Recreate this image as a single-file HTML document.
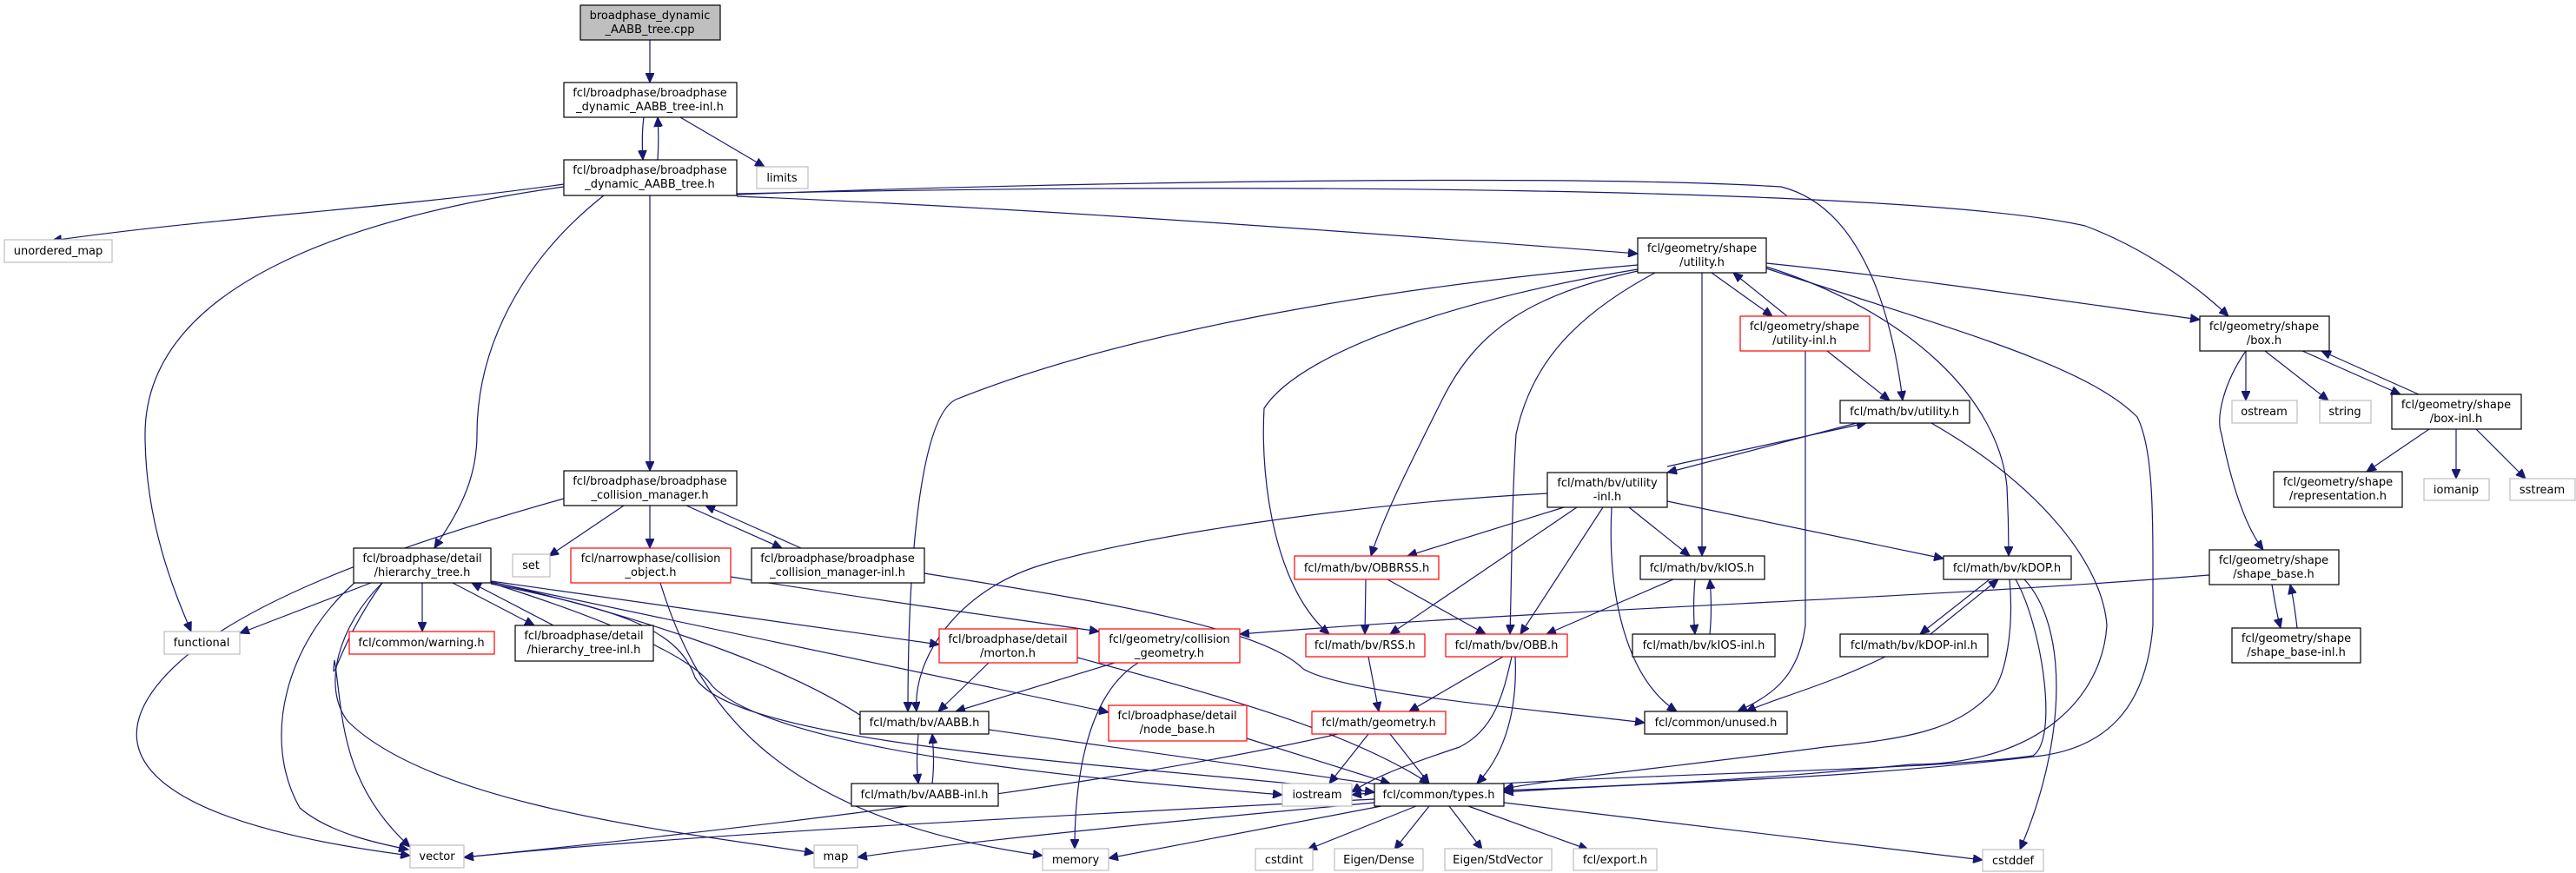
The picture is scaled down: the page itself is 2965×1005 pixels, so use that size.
<!DOCTYPE html>
<html><head><meta charset="utf-8"><style>
html,body{margin:0;padding:0;background:#fff;}
svg{display:block;}
text{font-family:"DejaVu Sans","Liberation Sans",sans-serif;font-size:13px;fill:#000;}
.n{fill:#fff;stroke:#000;stroke-width:1.2;}
.r{fill:#fff;stroke:#ff0000;stroke-width:1.2;}
.g{fill:#fff;stroke:#bfbfbf;stroke-width:1.2;}
.e{fill:none;stroke:#191970;stroke-width:1.2;}
</style></head><body>
<svg width="2965" height="1005" viewBox="0 0 2965 1005" xmlns="http://www.w3.org/2000/svg">
<defs><marker id="a" markerUnits="userSpaceOnUse" markerWidth="12" markerHeight="10" refX="11" refY="5" orient="auto"><path d="M0,0 L11,5 L0,10 Z" fill="#191970" stroke="#191970"/></marker></defs>
<g class="edges" marker-end="url(#a)">
<path class="e" marker-end="url(#a)" d="M748,46 L748,95"/>
<path class="e" marker-end="url(#a)" d="M741,135 C739,150 739,168 740,184"/>
<path class="e" marker-end="url(#a)" d="M757,184 C758,168 758,150 757,135"/>
<path class="e" marker-end="url(#a)" d="M783,135 L880,192"/>
<path class="e" marker-end="url(#a)" d="M649,212 C450,240 250,250 60,277"/>
<path class="e" marker-end="url(#a)" d="M649,215 C400,250 167,330 167,500 C167,600 200,680 220,727"/>
<path class="e" marker-end="url(#a)" d="M695,225 C600,300 549,400 549,500 C549,560 520,600 500,631"/>
<path class="e" marker-end="url(#a)" d="M748,225 L748,542"/>
<path class="e" marker-end="url(#a)" d="M848,226 C1200,240 1600,270 1885,292"/>
<path class="e" marker-end="url(#a)" d="M848,224 C1200,210 1800,200 2050,215 C2150,240 2180,380 2190,461"/>
<path class="e" marker-end="url(#a)" d="M848,223 C1400,210 2200,215 2400,260 C2480,290 2540,340 2565,364"/>
<path class="e" marker-end="url(#a)" d="M649,574 C450,630 250,700 180,790 C110,880 200,950 472,985"/>
<path class="e" marker-end="url(#a)" d="M718,582 L632,640"/>
<path class="e" marker-end="url(#a)" d="M748,582 L748,631"/>
<path class="e" marker-end="url(#a)" d="M790,582 L900,631"/>
<path class="e" marker-end="url(#a)" d="M922,631 L812,582"/>
<path class="e" marker-end="url(#a)" d="M427,671 L276,729"/>
<path class="e" marker-end="url(#a)" d="M486,671 L486,727"/>
<path class="e" marker-end="url(#a)" d="M521,671 L615,720"/>
<path class="e" marker-end="url(#a)" d="M637,720 L543,671"/>
<path class="e" marker-end="url(#a)" d="M408,671 C330,740 300,850 345,930 C380,960 440,972 470,978"/>
<path class="e" marker-end="url(#a)" d="M440,671 C390,740 380,800 385,760 C395,820 390,900 472,975"/>
<path class="e" marker-end="url(#a)" d="M440,671 C390,720 370,790 400,830 C500,930 800,960 937,982"/>
<path class="e" marker-end="url(#a)" d="M565,669 L1081,742"/>
<path class="e" marker-end="url(#a)" d="M565,670 C700,700 900,760 1000,830"/>
<path class="e" marker-end="url(#a)" d="M565,670 L1276,820"/>
<path class="e" marker-end="url(#a)" d="M565,672 C700,700 780,720 800,780 C850,860 1300,880 1582,912"/>
<path class="e" marker-end="url(#a)" d="M565,671 C720,720 800,760 820,790 C900,870 1300,900 1476,915"/>
<path class="e" marker-end="url(#a)" d="M760,671 C800,800 880,940 1200,985"/>
<path class="e" marker-end="url(#a)" d="M841,664 C1000,690 1150,710 1265,727"/>
<path class="e" marker-end="url(#a)" d="M1064,660 C1250,690 1450,720 1500,770 C1550,800 1800,820 1893,832"/>
<path class="e" marker-end="url(#a)" d="M1885,305 C1600,330 1300,380 1100,460 C1060,480 1045,640 1045,819"/>
<path class="e" marker-end="url(#a)" d="M1885,310 C1700,340 1500,400 1455,470 C1450,560 1470,680 1530,730"/>
<path class="e" marker-end="url(#a)" d="M1885,312 C1760,340 1700,380 1660,460 C1620,540 1590,600 1578,640"/>
<path class="e" marker-end="url(#a)" d="M1905,314 C1800,370 1760,430 1745,500 C1740,580 1740,660 1738,730"/>
<path class="e" marker-end="url(#a)" d="M1959,314 L1959,640"/>
<path class="e" marker-end="url(#a)" d="M1970,314 L2040,364"/>
<path class="e" marker-end="url(#a)" d="M2057,364 L1995,314"/>
<path class="e" marker-end="url(#a)" d="M2033,307 C2200,360 2300,460 2310,560 C2312,600 2312,620 2312,640"/>
<path class="e" marker-end="url(#a)" d="M2033,303 C2200,320 2400,350 2532,368"/>
<path class="e" marker-end="url(#a)" d="M2033,309 C2250,380 2400,420 2460,480 C2480,520 2478,600 2478,720 C2470,820 2420,860 2350,870 C2100,900 1900,900 1731,912"/>
<path class="e" marker-end="url(#a)" d="M2103,404 L2175,461"/>
<path class="e" marker-end="url(#a)" d="M2078,404 C2078,450 2078,650 2078,720 C2070,780 2040,800 2000,819"/>
<path class="e" marker-end="url(#a)" d="M2137,487 L1919,544"/>
<path class="e" marker-end="url(#a)" d="M1919,537 L2148,487"/>
<path class="e" marker-end="url(#a)" d="M2223,487 C2350,560 2420,650 2425,720 C2420,800 2350,880 2200,880 C2000,900 1850,905 1731,910"/>
<path class="e" marker-end="url(#a)" d="M1781,568 C1550,580 1300,620 1200,650 C1100,680 1050,760 1055,819"/>
<path class="e" marker-end="url(#a)" d="M1800,584 L1620,640"/>
<path class="e" marker-end="url(#a)" d="M1815,584 L1600,730"/>
<path class="e" marker-end="url(#a)" d="M1845,584 L1750,730"/>
<path class="e" marker-end="url(#a)" d="M1875,584 L1945,640"/>
<path class="e" marker-end="url(#a)" d="M1919,577 L2237,643"/>
<path class="e" marker-end="url(#a)" d="M1855,584 C1850,680 1870,780 1930,819"/>
<path class="e" marker-end="url(#a)" d="M1572,667 L1571,730"/>
<path class="e" marker-end="url(#a)" d="M1597,667 L1710,730"/>
<path class="e" marker-end="url(#a)" d="M1926,667 L1780,730"/>
<path class="e" marker-end="url(#a)" d="M1951,667 C1949,690 1949,710 1951,730"/>
<path class="e" marker-end="url(#a)" d="M1968,730 C1970,710 1970,690 1968,667"/>
<path class="e" marker-end="url(#a)" d="M2290,667 L2210,730"/>
<path class="e" marker-end="url(#a)" d="M2222,730 L2300,667"/>
<path class="e" marker-end="url(#a)" d="M2313,667 C2318,720 2310,780 2290,800 C2250,840 2200,850 2100,860 C1950,880 1800,895 1731,908"/>
<path class="e" marker-end="url(#a)" d="M2320,667 C2350,720 2370,850 2340,870 C2200,890 1800,890 1556,915"/>
<path class="e" marker-end="url(#a)" d="M2330,667 C2380,720 2380,850 2325,978"/>
<path class="e" marker-end="url(#a)" d="M2170,756 C2100,790 2040,805 2010,819"/>
<path class="e" marker-end="url(#a)" d="M2543,662 C2200,690 1800,700 1427,730"/>
<path class="e" marker-end="url(#a)" d="M2585,404 L2585,461"/>
<path class="e" marker-end="url(#a)" d="M2607,404 L2680,461"/>
<path class="e" marker-end="url(#a)" d="M2650,404 L2763,454"/>
<path class="e" marker-end="url(#a)" d="M2784,454 L2672,404"/>
<path class="e" marker-end="url(#a)" d="M2585,404 C2560,440 2550,480 2557,500 C2565,540 2580,600 2605,633"/>
<path class="e" marker-end="url(#a)" d="M2796,494 L2724,543"/>
<path class="e" marker-end="url(#a)" d="M2827,494 L2827,551"/>
<path class="e" marker-end="url(#a)" d="M2850,494 L2907,551"/>
<path class="e" marker-end="url(#a)" d="M2615,673 C2618,690 2620,705 2625,723"/>
<path class="e" marker-end="url(#a)" d="M2644,723 C2642,705 2640,690 2636,673"/>
<path class="e" marker-end="url(#a)" d="M1575,756 L1587,819"/>
<path class="e" marker-end="url(#a)" d="M1730,756 L1622,819"/>
<path class="e" marker-end="url(#a)" d="M1740,756 C1730,800 1720,840 1680,860 C1620,880 1580,895 1556,912"/>
<path class="e" marker-end="url(#a)" d="M1744,756 C1746,800 1740,860 1700,902"/>
<path class="e" marker-end="url(#a)" d="M1575,845 L1530,902"/>
<path class="e" marker-end="url(#a)" d="M1600,845 L1645,902"/>
<path class="e" marker-end="url(#a)" d="M1540,845 C1300,900 900,950 534,987"/>
<path class="e" marker-end="url(#a)" d="M1138,763 L1080,819"/>
<path class="e" marker-end="url(#a)" d="M1240,757 C1400,800 1550,840 1645,902"/>
<path class="e" marker-end="url(#a)" d="M1283,763 L1100,819"/>
<path class="e" marker-end="url(#a)" d="M1310,763 C1250,800 1237,900 1237,977"/>
<path class="e" marker-end="url(#a)" d="M1435,850 L1600,902"/>
<path class="e" marker-end="url(#a)" d="M1057,845 C1055,870 1055,885 1057,902"/>
<path class="e" marker-end="url(#a)" d="M1073,902 C1075,885 1075,870 1073,845"/>
<path class="e" marker-end="url(#a)" d="M1138,840 L1600,905"/>
<path class="e" marker-end="url(#a)" d="M1582,920 C1200,940 800,960 534,987"/>
<path class="e" marker-end="url(#a)" d="M1582,924 C1300,950 1100,970 987,987"/>
<path class="e" marker-end="url(#a)" d="M1590,928 L1276,988"/>
<path class="e" marker-end="url(#a)" d="M1630,928 L1505,978"/>
<path class="e" marker-end="url(#a)" d="M1645,928 L1605,978"/>
<path class="e" marker-end="url(#a)" d="M1668,928 L1706,978"/>
<path class="e" marker-end="url(#a)" d="M1690,928 L1828,978"/>
<path class="e" marker-end="url(#a)" d="M1731,924 L2282,990"/>
</g>
<!-- nodes -->
<rect x="668" y="6" width="161" height="40" fill="#bfbfbf" stroke="#000" stroke-width="1.2"/>
<text x="748" y="22" text-anchor="middle">broadphase_dynamic</text><text x="748" y="38" text-anchor="middle">_AABB_tree.cpp</text>
<rect class="n" x="649" y="95" width="199" height="40"/>
<text x="748" y="111" text-anchor="middle">fcl/broadphase/broadphase</text><text x="748" y="127" text-anchor="middle">_dynamic_AABB_tree-inl.h</text>
<rect class="n" x="649" y="184" width="199" height="41"/>
<text x="748" y="200" text-anchor="middle">fcl/broadphase/broadphase</text><text x="748" y="216" text-anchor="middle">_dynamic_AABB_tree.h</text>
<rect class="g" x="871" y="192" width="59" height="25"/><text x="900" y="209" text-anchor="middle">limits</text>
<rect class="g" x="5" y="276" width="124" height="26"/><text x="67" y="293" text-anchor="middle">unordered_map</text>
<rect class="n" x="649" y="542" width="199" height="40"/>
<text x="748" y="558" text-anchor="middle">fcl/broadphase/broadphase</text><text x="748" y="574" text-anchor="middle">_collision_manager.h</text>
<rect class="n" x="407" y="631" width="158" height="40"/>
<text x="486" y="647" text-anchor="middle">fcl/broadphase/detail</text><text x="486" y="663" text-anchor="middle">/hierarchy_tree.h</text>
<rect class="g" x="590" y="638" width="43" height="26"/><text x="611" y="655" text-anchor="middle">set</text>
<rect class="r" x="657" y="631" width="184" height="40"/>
<text x="749" y="647" text-anchor="middle">fcl/narrowphase/collision</text><text x="749" y="663" text-anchor="middle">_object.h</text>
<rect class="n" x="865" y="631" width="199" height="40"/>
<text x="964" y="647" text-anchor="middle">fcl/broadphase/broadphase</text><text x="964" y="663" text-anchor="middle">_collision_manager-inl.h</text>
<rect class="g" x="189" y="727" width="87" height="26"/><text x="232" y="744" text-anchor="middle">functional</text>
<rect class="r" x="402" y="727" width="167" height="26"/><text x="485" y="744" text-anchor="middle">fcl/common/warning.h</text>
<rect class="n" x="593" y="720" width="159" height="41"/>
<text x="672" y="736" text-anchor="middle">fcl/broadphase/detail</text><text x="672" y="752" text-anchor="middle">/hierarchy_tree-inl.h</text>
<rect class="g" x="472" y="973" width="62" height="26"/><text x="503" y="990" text-anchor="middle">vector</text>
<rect class="g" x="937" y="973" width="50" height="26"/><text x="962" y="990" text-anchor="middle">map</text>
<rect class="n" x="1885" y="274" width="148" height="40"/>
<text x="1959" y="290" text-anchor="middle">fcl/geometry/shape</text><text x="1959" y="306" text-anchor="middle">/utility.h</text>
<rect class="r" x="2003" y="364" width="149" height="40"/>
<text x="2077" y="380" text-anchor="middle">fcl/geometry/shape</text><text x="2077" y="396" text-anchor="middle">/utility-inl.h</text>
<rect class="n" x="2118" y="461" width="149" height="26"/><text x="2192" y="478" text-anchor="middle">fcl/math/bv/utility.h</text>
<rect class="n" x="1781" y="544" width="138" height="40"/>
<text x="1850" y="560" text-anchor="middle">fcl/math/bv/utility</text><text x="1850" y="576" text-anchor="middle">-inl.h</text>
<rect class="n" x="2532" y="364" width="149" height="40"/>
<text x="2606" y="380" text-anchor="middle">fcl/geometry/shape</text><text x="2606" y="396" text-anchor="middle">/box.h</text>
<rect class="g" x="2569" y="461" width="75" height="26"/><text x="2606" y="478" text-anchor="middle">ostream</text>
<rect class="g" x="2670" y="461" width="59" height="26"/><text x="2699" y="478" text-anchor="middle">string</text>
<rect class="n" x="2753" y="454" width="149" height="40"/>
<text x="2827" y="470" text-anchor="middle">fcl/geometry/shape</text><text x="2827" y="486" text-anchor="middle">/box-inl.h</text>
<rect class="n" x="2617" y="543" width="148" height="41"/>
<text x="2691" y="559" text-anchor="middle">fcl/geometry/shape</text><text x="2691" y="575" text-anchor="middle">/representation.h</text>
<rect class="g" x="2790" y="551" width="75" height="25"/><text x="2827" y="568" text-anchor="middle">iomanip</text>
<rect class="g" x="2889" y="551" width="75" height="25"/><text x="2926" y="568" text-anchor="middle">sstream</text>
<rect class="r" x="1490" y="640" width="166" height="27"/><text x="1573" y="658" text-anchor="middle">fcl/math/bv/OBBRSS.h</text>
<rect class="n" x="1888" y="640" width="143" height="27"/><text x="1959" y="658" text-anchor="middle">fcl/math/bv/kIOS.h</text>
<rect class="n" x="2237" y="640" width="147" height="27"/><text x="2310" y="658" text-anchor="middle">fcl/math/bv/kDOP.h</text>
<rect class="n" x="2543" y="633" width="149" height="40"/>
<text x="2617" y="649" text-anchor="middle">fcl/geometry/shape</text><text x="2617" y="665" text-anchor="middle">/shape_base.h</text>
<rect class="r" x="1081" y="724" width="159" height="39"/>
<text x="1160" y="740" text-anchor="middle">fcl/broadphase/detail</text><text x="1160" y="756" text-anchor="middle">/morton.h</text>
<rect class="r" x="1265" y="724" width="162" height="39"/>
<text x="1346" y="740" text-anchor="middle">fcl/geometry/collision</text><text x="1346" y="756" text-anchor="middle">_geometry.h</text>
<rect class="r" x="1503" y="730" width="137" height="26"/><text x="1571" y="747" text-anchor="middle">fcl/math/bv/RSS.h</text>
<rect class="r" x="1664" y="730" width="140" height="26"/><text x="1734" y="747" text-anchor="middle">fcl/math/bv/OBB.h</text>
<rect class="n" x="1879" y="730" width="164" height="26"/><text x="1961" y="747" text-anchor="middle">fcl/math/bv/kIOS-inl.h</text>
<rect class="n" x="2118" y="730" width="170" height="26"/><text x="2203" y="747" text-anchor="middle">fcl/math/bv/kDOP-inl.h</text>
<rect class="n" x="2569" y="723" width="148" height="40"/>
<text x="2643" y="739" text-anchor="middle">fcl/geometry/shape</text><text x="2643" y="755" text-anchor="middle">/shape_base-inl.h</text>
<rect class="n" x="990" y="819" width="148" height="26"/><text x="1064" y="836" text-anchor="middle">fcl/math/bv/AABB.h</text>
<rect class="r" x="1276" y="812" width="159" height="41"/>
<text x="1355" y="828" text-anchor="middle">fcl/broadphase/detail</text><text x="1355" y="844" text-anchor="middle">/node_base.h</text>
<rect class="r" x="1510" y="819" width="154" height="26"/><text x="1587" y="836" text-anchor="middle">fcl/math/geometry.h</text>
<rect class="n" x="1893" y="819" width="164" height="26"/><text x="1975" y="836" text-anchor="middle">fcl/common/unused.h</text>
<rect class="n" x="980" y="902" width="169" height="26"/><text x="1064" y="919" text-anchor="middle">fcl/math/bv/AABB-inl.h</text>
<rect class="g" x="1476" y="902" width="80" height="26"/><text x="1516" y="919" text-anchor="middle">iostream</text>
<rect class="n" x="1582" y="902" width="149" height="26"/><text x="1656" y="919" text-anchor="middle">fcl/common/types.h</text>
<rect class="g" x="1200" y="977" width="76" height="25"/><text x="1238" y="994" text-anchor="middle">memory</text>
<rect class="g" x="1445" y="977" width="66" height="25"/><text x="1478" y="994" text-anchor="middle">cstdint</text>
<rect class="g" x="1536" y="977" width="102" height="25"/><text x="1587" y="994" text-anchor="middle">Eigen/Dense</text>
<rect class="g" x="1663" y="977" width="123" height="25"/><text x="1724" y="994" text-anchor="middle">Eigen/StdVector</text>
<rect class="g" x="1811" y="977" width="96" height="25"/><text x="1859" y="994" text-anchor="middle">fcl/export.h</text>
<rect class="g" x="2282" y="978" width="70" height="25"/><text x="2317" y="995" text-anchor="middle">cstddef</text>
</svg>
</body></html>
